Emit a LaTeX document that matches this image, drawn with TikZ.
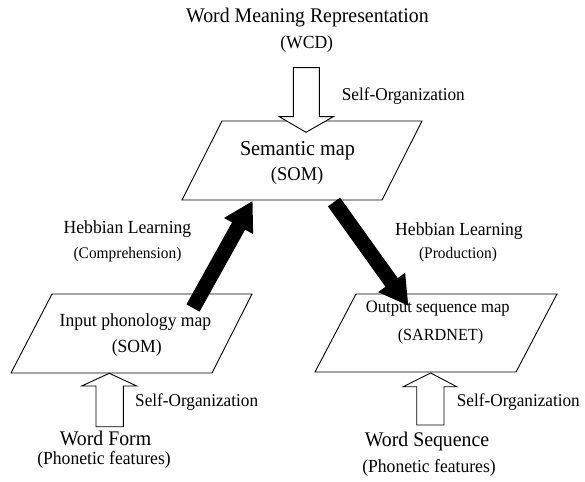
\documentclass[tikz,border=0pt]{standalone}
\usepackage{fontspec}
\setmainfont{Liberation Serif}
\usetikzlibrary{arrows.meta}
\tikzset{
  mapbox/.style={draw=black, line width=0.9pt, fill=white, line join=miter},
  hollow/.style={draw=black, line width=0.9pt, fill=white, line join=miter},
  heavy/.style={line width=15pt, line cap=butt, -{Triangle[width=31pt,length=29pt]}},
  txt/.style={inner sep=0pt, anchor=base, yscale=1.05},
  txtw/.style={inner sep=0pt, anchor=base west, yscale=1.05},
  fbig/.style={font=\fontsize{19.8}{22}\selectfont},
  fmid/.style={font=\fontsize{17.6}{20}\selectfont},
  flab/.style={font=\fontsize{17.2}{20}\selectfont},
  fsmall/.style={font=\fontsize{15.4}{18}\selectfont},
}
\begin{document}
\begin{tikzpicture}[x=1pt, y=-1pt]
\useasboundingbox (0,0) rectangle (585,481);

% maps
\draw[mapbox] (222,121) -- (422,121) -- (382,200) -- (182,200) -- cycle;
\draw[mapbox] (52,294) -- (252,294) -- (212,373) -- (11,373) -- cycle;
\draw[mapbox] (356,294) -- (557,294) -- (516,372) -- (315,372) -- cycle;

% hollow arrows
\draw[hollow] (293.3,67.7) -- (319.3,67.7) -- (319.3,116.7) -- (333.3,116.7) -- (306,132.3)
   -- (279.3,116.7) -- (293.3,116.7) -- cycle;
\draw[hollow] (96,426.7) -- (123.3,426.7) -- (123.3,386) -- (136.7,386) -- (109.3,373.3)
   -- (81.7,386) -- (96,386) -- cycle;
\draw[hollow] (416.7,425) -- (444,425) -- (444,386.7) -- (456.7,386.7) -- (430.7,373)
   -- (403.3,386.7) -- (416.7,386.7) -- cycle;

% heavy arrows
\coordinate (inA) at (193,308);
\coordinate (semA) at (252.7,200.7);
\coordinate (semB) at (334,202);
\coordinate (outB) at (408.5,306);
\draw[heavy] (inA) -- (semA);
\draw[heavy] (semB) -- (outB);

% texts
\node[txt, fbig] (wmr) at (307.5,22.5) {Word Meaning Representation};
\node[txt, fmid] (wcd) at (306.7,49) {(WCD)};
\node[txtw, flab] (so1) at (341.7,100.5) {Self-Organization};
\node[txt, font=\fontsize{20.2}{22}\selectfont] (sem) at (297.5,155) {Semantic map};
\node[txt, font=\fontsize{18.5}{20}\selectfont] (som1) at (297.2,180) {(SOM)};

\node[txt, fmid] (hl1) at (127.5,233.3) {Hebbian Learning};
\node[txt, fsmall] (comp) at (127.5,258.3) {(Comprehension)};
\node[txt, fmid] (hl2) at (459,235) {Hebbian Learning};
\node[txt, fsmall] (prod) at (458,258.3) {(Production)};

\node[txt, fmid] (inp) at (135.5,326.7) {Input phonology map};
\node[txt, fmid] (som2) at (136.7,352.7) {(SOM)};
\node[txt, font=\fontsize{16.6}{20}\selectfont] (outp) at (437.8,312.7) {Output sequence map};
\node[txt, font=\fontsize{16.2}{20}\selectfont] (sard) at (440.5,340) {(SARDNET)};

\node[txtw, flab] (so2) at (135,406) {Self-Organization};
\node[txtw, flab] (so3) at (456.7,406) {Self-Organization};

\node[txt, fbig] (wf) at (105.5,445.3) {Word Form};
\node[txt, fmid] (pf1) at (104,464.5) {(Phonetic features)};
\node[txt, fbig] (ws) at (427,446.7) {Word Sequence};
\node[txt, fmid] (pf2) at (429,472.3) {(Phonetic features)};
\end{tikzpicture}
\end{document}
